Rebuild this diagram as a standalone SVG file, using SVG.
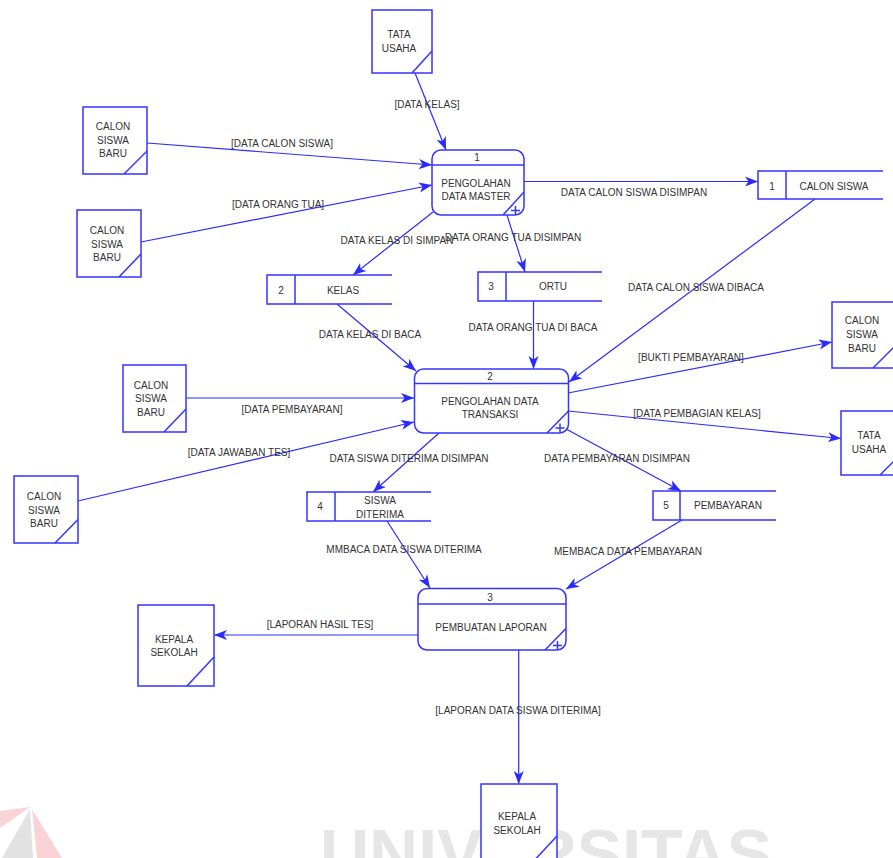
<svg xmlns="http://www.w3.org/2000/svg" width="893" height="858" viewBox="0 0 893 858">
<style>
.sh{fill:#ffffff;stroke:#3434ff;stroke-width:1.5}
.ln{fill:none;stroke:#3434ff;stroke-width:1.5}
.cn{fill:none;stroke:#2a2aff;stroke-width:1.2}
text{font-family:"Liberation Sans",Arial,sans-serif;font-size:10px;fill:#333333}
.m{text-anchor:middle}
.wm{font-size:68px;font-weight:bold;fill:#e6e6e6;text-anchor:middle}
</style>
<defs>
<marker id="ah" markerUnits="userSpaceOnUse" markerWidth="14" markerHeight="12" refX="13" refY="5" orient="auto" viewBox="0 0 14 10">
<path d="M0,0 L13,5 L0,10 L3.5,5 z" fill="#2a2aff"/>
</marker>
</defs>
<rect width="893" height="858" fill="#ffffff"/>
<g id="watermark">
<polygon points="0,811 30,807 0,828" fill="#fad3d7"/>
<polygon points="30,809 2,858 33,858" fill="#e2e2e2"/>
<polygon points="32,809 37,858 62,858" fill="#fad3d7"/>
<text class="wm" x="546" y="877">UNIVERSITAS</text>
</g>
<g id="connectors">
<line class="cn" x1="415" y1="73" x2="446" y2="150" marker-end="url(#ah)"/>
<text class="m" x="427" y="107.5">[DATA KELAS]</text>
<line class="cn" x1="147" y1="143" x2="432" y2="165" marker-end="url(#ah)"/>
<text class="m" x="282" y="146.5">[DATA CALON SISWA]</text>
<line class="cn" x1="141" y1="242" x2="432" y2="185" marker-end="url(#ah)"/>
<text class="m" x="278" y="207.5">[DATA ORANG TUA]</text>
<line class="cn" x1="524" y1="181.5" x2="758" y2="181.5" marker-end="url(#ah)"/>
<text class="m" x="634" y="195.5">DATA CALON SISWA DISIMPAN</text>
<line class="cn" x1="433" y1="212" x2="353" y2="275" marker-end="url(#ah)"/>
<text class="m" x="397" y="243.5">DATA KELAS DI SIMPAN</text>
<line class="cn" x1="507" y1="215" x2="525" y2="272" marker-end="url(#ah)"/>
<text class="m" x="513" y="240.5">DATA ORANG TUA DISIMPAN</text>
<line class="cn" x1="815" y1="199" x2="569" y2="382" marker-end="url(#ah)"/>
<text class="m" x="696" y="290.5">DATA CALON SISWA DIBACA</text>
<line class="cn" x1="337" y1="304" x2="416" y2="371" marker-end="url(#ah)"/>
<text class="m" x="370" y="337.5">DATA KELAS DI BACA</text>
<line class="cn" x1="533.5" y1="301" x2="533.5" y2="369" marker-end="url(#ah)"/>
<text class="m" x="533" y="330.5">DATA ORANG TUA DI BACA</text>
<line class="cn" x1="568" y1="393" x2="832" y2="342" marker-end="url(#ah)"/>
<text class="m" x="691" y="360.5">[BUKTI PEMBAYARAN]</text>
<line class="cn" x1="568" y1="411" x2="841" y2="438.5" marker-end="url(#ah)"/>
<text class="m" x="697" y="416.5">[DATA PEMBAGIAN KELAS]</text>
<line class="cn" x1="186" y1="398" x2="414" y2="398" marker-end="url(#ah)"/>
<text class="m" x="292" y="412.5">[DATA PEMBAYARAN]</text>
<line class="cn" x1="78" y1="501" x2="414" y2="422" marker-end="url(#ah)"/>
<text class="m" x="239" y="455.5">[DATA JAWABAN TES]</text>
<line class="cn" x1="439" y1="433" x2="373" y2="492" marker-end="url(#ah)"/>
<text class="m" x="409" y="461.5">DATA SISWA DITERIMA DISIMPAN</text>
<line class="cn" x1="567" y1="429.5" x2="681" y2="491" marker-end="url(#ah)"/>
<text class="m" x="617" y="461.5">DATA PEMBAYARAN DISIMPAN</text>
<line class="cn" x1="387" y1="521" x2="430" y2="588" marker-end="url(#ah)"/>
<text class="m" x="404" y="552.5">MMBACA DATA SISWA DITERIMA</text>
<line class="cn" x1="682" y1="520" x2="566" y2="589" marker-end="url(#ah)"/>
<text class="m" x="628" y="554.5">MEMBACA DATA PEMBAYARAN</text>
<line class="cn" x1="418" y1="635" x2="214" y2="635" marker-end="url(#ah)"/>
<text class="m" x="320" y="627.5">[LAPORAN HASIL TES]</text>
<line class="cn" x1="518.7" y1="650" x2="518.7" y2="784" marker-end="url(#ah)"/>
<text class="m" x="518" y="713.5">[LAPORAN DATA SISWA DITERIMA]</text>
</g>
<g id="ext-tata-usaha-1">
<rect class="sh" x="372" y="10" width="60" height="63"/>
<line class="ln" x1="412" y1="73" x2="432" y2="51"/>
<text class="m" x="399" y="37.5">TATA</text>
<text class="m" x="399" y="51.5">USAHA</text>
</g>
<g id="ext-calon-siswa-1">
<rect class="sh" x="83" y="107" width="64" height="67"/>
<line class="ln" x1="124" y1="174" x2="147" y2="151"/>
<text class="m" x="113" y="129.5">CALON</text>
<text class="m" x="113" y="143.5">SISWA</text>
<text class="m" x="113" y="157">BARU</text>
</g>
<g id="ext-calon-siswa-2">
<rect class="sh" x="77" y="210" width="64" height="67"/>
<line class="ln" x1="119" y1="277" x2="141" y2="254"/>
<text class="m" x="107" y="233.5">CALON</text>
<text class="m" x="107" y="247.5">SISWA</text>
<text class="m" x="107" y="261">BARU</text>
</g>
<g id="ext-calon-siswa-3">
<rect class="sh" x="832" y="302" width="64" height="66"/>
<line class="ln" x1="873" y1="368" x2="896" y2="345"/>
<text class="m" x="862" y="323.5">CALON</text>
<text class="m" x="862" y="337.5">SISWA</text>
<text class="m" x="862" y="351.5">BARU</text>
</g>
<g id="ext-tata-usaha-2">
<rect class="sh" x="841" y="411" width="64" height="64"/>
<line class="ln" x1="880" y1="475" x2="903" y2="452"/>
<text class="m" x="869" y="439">TATA</text>
<text class="m" x="869" y="452.5">USAHA</text>
</g>
<g id="ext-calon-siswa-4">
<rect class="sh" x="123" y="365" width="63" height="67"/>
<line class="ln" x1="164" y1="432" x2="186" y2="409"/>
<text class="m" x="151" y="388.5">CALON</text>
<text class="m" x="151" y="402">SISWA</text>
<text class="m" x="151" y="416">BARU</text>
</g>
<g id="ext-calon-siswa-5">
<rect class="sh" x="14" y="476" width="64" height="67"/>
<line class="ln" x1="55" y1="543" x2="78" y2="519.5"/>
<text class="m" x="44" y="499.5">CALON</text>
<text class="m" x="44" y="513.5">SISWA</text>
<text class="m" x="44" y="527">BARU</text>
</g>
<g id="ext-kepala-sekolah-1">
<rect class="sh" x="138" y="605" width="76" height="81"/>
<line class="ln" x1="187" y1="686" x2="214" y2="657"/>
<text class="m" x="174" y="643">KEPALA</text>
<text class="m" x="174" y="656">SEKOLAH</text>
</g>
<g id="ext-kepala-sekolah-2">
<rect class="sh" x="481" y="784" width="76" height="81"/>
<line class="ln" x1="530" y1="865" x2="557" y2="836"/>
<text class="m" x="517" y="820">KEPALA</text>
<text class="m" x="517" y="833.5">SEKOLAH</text>
</g>
<g id="proc-1">
<rect class="sh" x="432" y="150" width="92" height="65" rx="9"/>
<line class="ln" x1="432" y1="165" x2="524" y2="165"/>
<line class="ln" x1="503" y1="215" x2="524" y2="192"/>
<text class="m" x="477" y="160.5">1</text>
<text class="m" x="476" y="186.5">PENGOLAHAN</text>
<text class="m" x="476" y="199.5">DATA MASTER</text>
<path class="ln" d="M511,210.5 h9 M515.5,206 v9" stroke-width="1"/>
</g>
<g id="proc-2">
<rect class="sh" x="414.5" y="369" width="154" height="64" rx="9"/>
<line class="ln" x1="414.5" y1="383.5" x2="568.5" y2="383.5"/>
<line class="ln" x1="547" y1="433" x2="568.5" y2="411"/>
<text class="m" x="490" y="379.5">2</text>
<text class="m" x="490" y="405">PENGOLAHAN DATA</text>
<text class="m" x="490" y="418">TRANSAKSI</text>
<path class="ln" d="M555.5,428 h9 M560,423.5 v9" stroke-width="1"/>
</g>
<g id="proc-3">
<rect class="sh" x="418" y="588.5" width="148" height="61.5" rx="9"/>
<line class="ln" x1="418" y1="604" x2="566" y2="604"/>
<line class="ln" x1="545" y1="650" x2="566" y2="628.5"/>
<text class="m" x="490" y="600.5">3</text>
<text class="m" x="491" y="630.5">PEMBUATAN LAPORAN</text>
<path class="ln" d="M553,645.5 h9 M557.5,641 v9" stroke-width="1"/>
</g>
<g id="store-1">
<path class="ln" d="M883,171 H758 V199 H883 M786,171 V199"/>
<text class="m" x="772" y="189.5">1</text>
<text class="m" x="834" y="189.5">CALON SISWA</text>
</g>
<g id="store-2">
<path class="ln" d="M392,275 H267 V304 H392 M295,275 V304"/>
<text class="m" x="281" y="293.5">2</text>
<text class="m" x="343" y="293.5">KELAS</text>
</g>
<g id="store-3">
<path class="ln" d="M602,272 H478 V301 H602 M506,272 V301"/>
<text class="m" x="491" y="290">3</text>
<text class="m" x="553" y="290">ORTU</text>
</g>
<g id="store-4">
<path class="ln" d="M431,492 H307 V521 H431 M335,492 V521"/>
<text class="m" x="320" y="510">4</text>
<text class="m" x="380" y="503.5">SISWA</text>
<text class="m" x="380" y="517.5">DITERIMA</text>
</g>
<g id="store-5">
<path class="ln" d="M776,491 H653 V520 H776 M680,491 V520"/>
<text class="m" x="666" y="509">5</text>
<text class="m" x="728" y="509">PEMBAYARAN</text>
</g>
</svg>
